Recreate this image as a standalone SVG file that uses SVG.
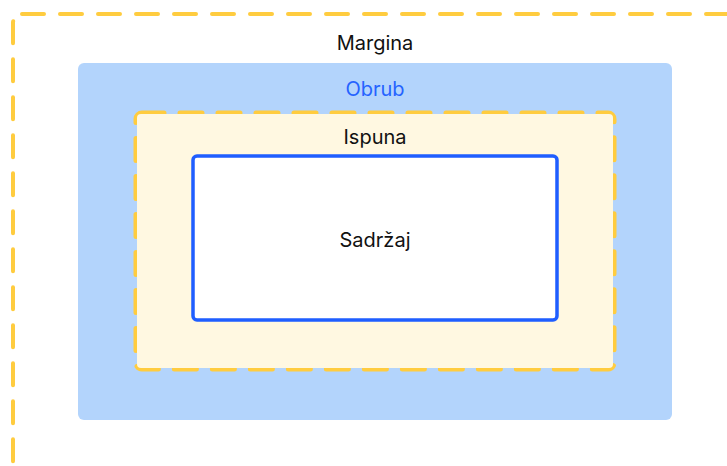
<svg xmlns="http://www.w3.org/2000/svg" width="727" height="466" viewBox="0 0 727 466">
<style>
.dash{fill:none;stroke:#FFCC3F;stroke-width:4;stroke-dasharray:22 16;stroke-linecap:round}
.lbl{font-family:Inter,"Noto Sans",sans-serif;font-size:20px;fill:#111;text-anchor:middle}
</style>
<rect width="727" height="466" fill="#fff"/>
<g id="margin">
<rect class="dash" x="13" y="14" width="760" height="500" rx="9"/>
<text class="lbl" x="375" y="50">Margina</text>
</g>
<g id="border">
<rect x="78" y="63" width="594" height="357" rx="6" fill="#B3D4FC"/>
<text class="lbl" x="375" y="96" style="fill:#2563FF">Obrub</text>
</g>
<g id="padding">
<rect class="dash" x="136" y="113" width="478" height="256" rx="6" style="stroke-width:5"/>
<rect x="137" y="114" width="476" height="254" rx="4" fill="#FFF8E1"/>
<text class="lbl" x="375" y="144">Ispuna</text>
</g>
<g id="content">
<rect x="193" y="156" width="364" height="164" rx="4" fill="#fff" stroke="#1F5EFF" stroke-width="3.5"/>
<text class="lbl" x="375" y="247">Sadržaj</text>
</g>
<g id="connectors"/>
</svg>
